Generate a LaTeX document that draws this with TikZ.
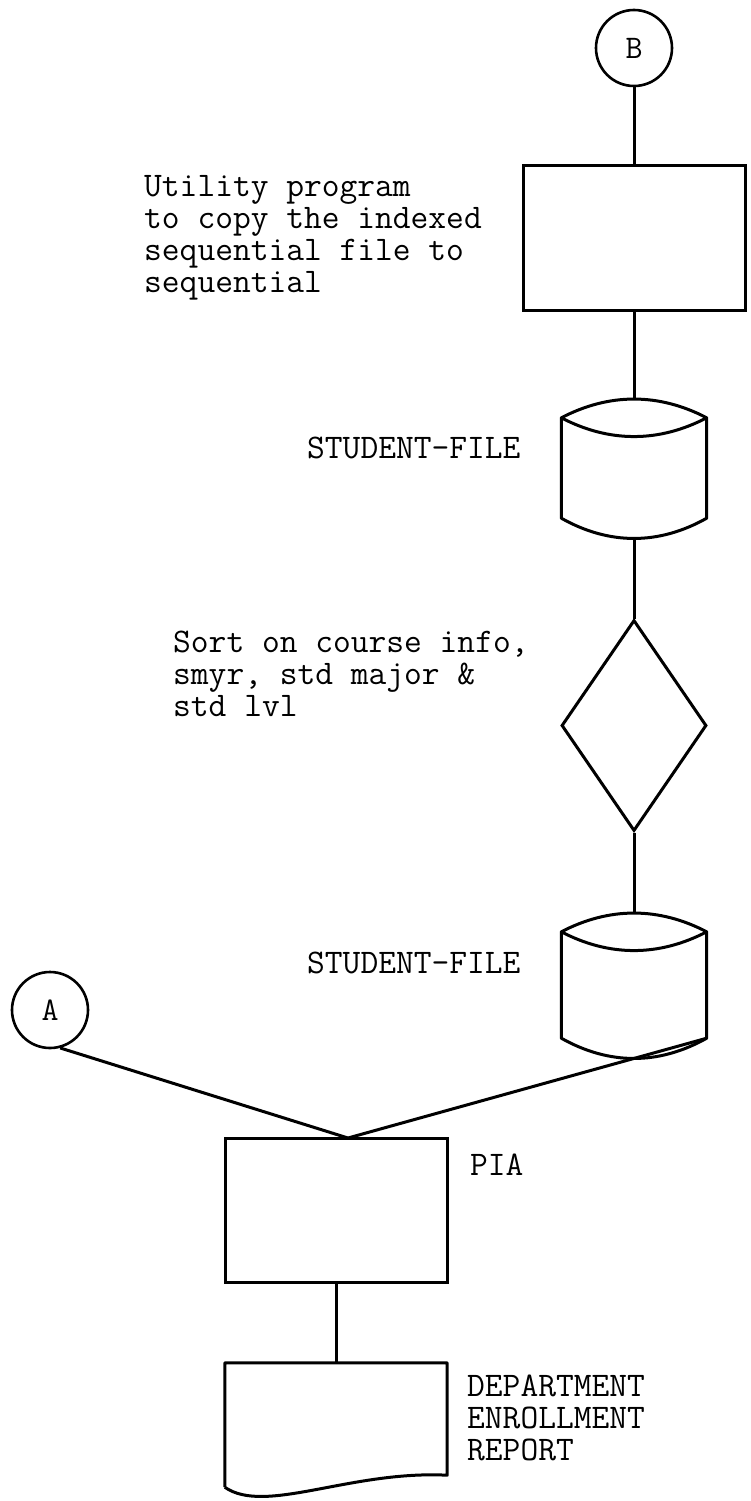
\documentclass[tikz,border=0pt]{standalone}
\usetikzlibrary{shapes.geometric}
\tikzset{line/.style={line width=3pt},
  conn/.style={circle,draw,line width=2.6pt,minimum size=76pt,inner sep=0pt,font=\ttfamily\fontsize{33}{31}\selectfont},
  procbox/.style={rectangle,draw,line width=3pt,inner sep=0pt},
  drumbox/.style={rectangle,inner sep=0pt,minimum width=145pt},
  decide/.style={diamond,draw,line width=3pt,inner sep=0pt,minimum width=145pt,minimum height=211pt},
  note/.style={font=\ttfamily\fontsize{34.5}{32}\selectfont,inner sep=0pt,align=left,anchor=north west}}
% disk file outline drawn over an empty node
\newcommand\drum[1]{%
  \draw[line,line join=round] ([yshift=-19pt]#1.north west) .. controls +(48pt,25pt) and +(-48pt,25pt) .. ([yshift=-19pt]#1.north east)
    .. controls +(-48pt,-25pt) and +(48pt,-25pt) .. ([yshift=-19pt]#1.north west)
    -- ([yshift=20pt]#1.south west) .. controls +(48pt,-27pt) and +(-48pt,-27pt) .. ([yshift=20pt]#1.south east)
    -- ([yshift=-19pt]#1.north east);}
\begin{document}
\begin{tikzpicture}[x=1pt,y=-1pt]
\useasboundingbox (0,0) rectangle (750,1501);
% right column
\node[conn] (B) at (634,48) {B};
\node[procbox,minimum width=222pt,minimum height=145pt] (util) at (634,237.5) {};
\node[drumbox,minimum height=139pt] (file1) at (634,468.5) {};
\drum{file1}
\node[decide] (sort) at (634,725.5) {};
\node[drumbox,minimum height=145pt] (file2) at (634,985.5) {};
\drum{file2}
% left column
\node[conn] (A) at (50,1010) {A};
\node[procbox,minimum width=222pt,minimum height=144pt] (pia) at (336,1210) {};
\node[rectangle,inner sep=0pt,minimum width=222pt,minimum height=134pt] (report) at (336,1430) {};
\draw[line,line join=round] ([yshift=10pt]report.south west) -- (report.north west) -- (report.north east)
  -- ([yshift=22pt]report.south east) .. controls +(-97pt,5pt) and +(40pt,-28pt) .. ([yshift=10pt]report.south west);
\coordinate (join) at (348,1138);
% labels
\node[note] (utiltext) at (144,173.6) {\strut Utility program\\to copy the indexed\\sequential file to\\sequential};
\node[note,anchor=base west] (file1text) at (307,458) {STUDENT-FILE};
\node[note] (sorttext) at (173,629.6) {\strut Sort on course info,\\smyr, std major \&\\std lvl};
\node[note,anchor=base west] (file2text) at (307,973) {STUDENT-FILE};
\node[note,anchor=base west] (piatext) at (470,1175) {PIA};
\node[note] (reporttext) at (467,1373.6) {\strut DEPARTMENT\\ENROLLMENT\\REPORT};
% connectors
\draw[line] (B) -- (util);
\draw[line] (util) -- (file1);
\draw[line] (file1) -- (sort);
\draw[line] (sort) -- (file2);
\draw[line] (A.-75) -- (join);
\draw[line] ([yshift=20pt]file2.south east) -- (join);
\draw[line] (pia) -- (report);
\end{tikzpicture}
\end{document}
